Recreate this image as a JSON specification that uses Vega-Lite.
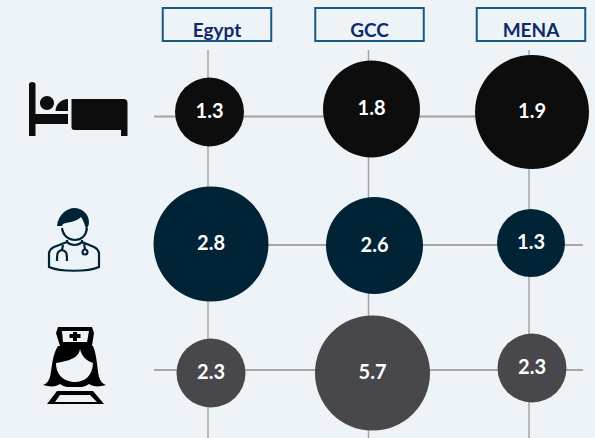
{"$schema":"https://vega.github.io/schema/vega-lite/v6.json","width":429,"height":388,"autosize":"none","padding":{"left":154,"top":50,"right":12,"bottom":0},"background":"#eef3f8","config":{"view":{"stroke":null}},
"datasets":{"cells":[
{"row":"Beds","column":"Egypt","value":1.3},{"row":"Beds","column":"GCC","value":1.8},{"row":"Beds","column":"MENA","value":1.9},
{"row":"Physicians","column":"Egypt","value":2.8},{"row":"Physicians","column":"GCC","value":2.6},{"row":"Physicians","column":"MENA","value":1.3},
{"row":"Nurses","column":"Egypt","value":2.3},{"row":"Nurses","column":"GCC","value":5.7},{"row":"Nurses","column":"MENA","value":2.3}],
"headers":[{"row":"Header","column":"Egypt"},{"row":"Header","column":"GCC"},{"row":"Header","column":"MENA"}],
"beds":[{"row":"Beds","column":"Icon"}],"physicians":[{"row":"Physicians","column":"Icon"}],"nurses":[{"row":"Nurses","column":"Icon"}]},
"encoding":{
"x":{"field":"column","type":"nominal","axis":null,"scale":{"type":"point","padding":0,"domain":["Icon","Egypt","GCC","MENA"],"range":[-106.5,375]}},
"y":{"field":"row","type":"nominal","axis":null,"scale":{"type":"point","padding":0,"domain":["Header","Beds","Physicians","Nurses"],"range":[-60.25,320]}}},
"layer":[
{"data":{"name":"headers"},"mark":{"type":"rule","stroke":"#aaa5a5","strokeWidth":1.5},"encoding":{"y":null}},
{"data":{"name":"cells"},"transform":[{"filter":"datum.row!='Physicians'"}],"mark":{"type":"rule","stroke":"#aaa5a5","strokeWidth":1.5},"encoding":{"x":null}},
{"data":{"name":"cells"},"transform":[{"filter":"datum.row=='Physicians'"}],"mark":{"type":"rule","stroke":"#aaa5a5","strokeWidth":1.5},"encoding":{"x":null,"yOffset":{"value":1.75}}},
{"data":{"name":"headers"},"transform":[{"filter":"datum.column=='Egypt'"}],"encoding":{"xOffset":{"value":9}},"layer":[
{"mark":{"type":"rect","width":108.5,"height":33,"fill":null,"stroke":"#1a5a82","strokeWidth":2},"encoding":{"yOffset":{"value":34.75}}},
{"mark":{"type":"text","font":"Lato","fontWeight":"bold","fontSize":19,"fill":"#0f2a6b"},"encoding":{"text":{"field":"column"},"yOffset":{"value":41}}}]},
{"data":{"name":"headers"},"transform":[{"filter":"datum.column=='GCC'"}],"encoding":{"xOffset":{"value":1}},"layer":[
{"mark":{"type":"rect","width":108.5,"height":33,"fill":null,"stroke":"#1a5a82","strokeWidth":2},"encoding":{"yOffset":{"value":34.75}}},
{"mark":{"type":"text","font":"Lato","fontWeight":"bold","fontSize":19,"fill":"#0f2a6b"},"encoding":{"text":{"field":"column"},"yOffset":{"value":41}}}]},
{"data":{"name":"headers"},"transform":[{"filter":"datum.column=='MENA'"}],"encoding":{"xOffset":{"value":2}},"layer":[
{"mark":{"type":"rect","width":108.5,"height":33,"fill":null,"stroke":"#1a5a82","strokeWidth":2},"encoding":{"yOffset":{"value":34.75}}},
{"mark":{"type":"text","font":"Lato","fontWeight":"bold","fontSize":19,"fill":"#0f2a6b"},"encoding":{"text":{"field":"column"},"yOffset":{"value":41}}}]},
{"data":{"name":"cells"},"transform":[{"filter":"datum.row=='Beds'"}],"layer":[
{"mark":{"type":"point","shape":"circle","filled":true,"fill":"#0d0d0d","opacity":1,"stroke":null},"encoding":{"size":{"field":"value","type":"quantitative","legend":null,"scale":{"domain":[1.3,1.8,1.9],"range":[4761,9409,12996]}}}},
{"mark":{"type":"text","font":"Lato","fontWeight":"bold","fontSize":20,"fill":"white"},"encoding":{"text":{"field":"value","format":".1f"}}}],
"encoding":{
"xOffset":{"field":"value","type":"quantitative","scale":{"domain":[1.3,1.8,1.9],"range":[1.5,3,3]}},
"yOffset":{"field":"value","type":"quantitative","scale":{"domain":[1.3,1.8,1.9],"range":[-4.5,-7.5,-4.5]}}}},
{"data":{"name":"cells"},"transform":[{"filter":"datum.row=='Physicians'"}],"layer":[
{"mark":{"type":"point","shape":"circle","filled":true,"fill":"#002335","opacity":1,"stroke":null},"encoding":{"size":{"field":"value","type":"quantitative","legend":null,"scale":{"domain":[1.3,2.6,2.8],"range":[4624,9409,13225]}}}},
{"mark":{"type":"text","font":"Lato","fontWeight":"bold","fontSize":20,"fill":"white"},"encoding":{"text":{"field":"value","format":".1f"}}}],
"encoding":{
"xOffset":{"field":"value","type":"quantitative","scale":{"domain":[1.3,2.6,2.8],"range":[2,6,3]}},
"yOffset":{"field":"value","type":"quantitative","scale":{"domain":[1.3,2.6,2.8],"range":[-0.25,2.25,0.75]}}}},
{"data":{"name":"cells"},"transform":[{"filter":"datum.row=='Nurses' && datum.column!='MENA'"}],"layer":[
{"mark":{"type":"point","shape":"circle","filled":true,"fill":"#48474b","opacity":1,"stroke":null},"encoding":{"size":{"field":"value","type":"quantitative","legend":null,"scale":{"domain":[2.3,5.7],"range":[4761,13225]}}}},
{"mark":{"type":"text","font":"Lato","fontWeight":"bold","fontSize":20,"fill":"white"},"encoding":{"text":{"field":"value","format":".1f"}}}],
"encoding":{
"xOffset":{"field":"value","type":"quantitative","scale":{"domain":[2.3,5.7],"range":[3,4]}},
"yOffset":{"value":3}}},
{"data":{"name":"cells"},"transform":[{"filter":"datum.row=='Nurses' && datum.column=='MENA'"}],"layer":[
{"mark":{"type":"point","shape":"circle","filled":true,"fill":"#48474b","opacity":1,"stroke":null},"encoding":{"size":{"field":"value","type":"quantitative","legend":null,"scale":{"domain":[2.3,5.7],"range":[4761,13225]}}}},
{"mark":{"type":"text","font":"Lato","fontWeight":"bold","fontSize":20,"fill":"white"},"encoding":{"text":{"field":"value","format":".1f"}}}],
"encoding":{"xOffset":{"value":3},"yOffset":{"value":-2}}},
{"data":{"name":"beds"},"mark":{"type":"point","filled":true,"fill":"#0d0d0d","stroke":null,"opacity":1,"size":4,"shape":"M-48.5 -32 Q-48.5 -34.5 -45.5 -34.5 Q-42 -34.5 -42 -32 V-2.5 H-9.5 V7.5 H-42 V19.5 H-48.5 Z M-37.5 -13.5 A7 7 0 1 0 -23.5 -13.5 A7 7 0 1 0 -37.5 -13.5 Z M-9.5 -17.5 L-9.5 -5.5 L-22 -5.5 C-22 -12 -16 -17.5 -9.5 -17.5 Z M-6 -17.5 H46 Q50 -17.5 50 -13.5 V19.5 H43.5 V13.5 H-3 Q-6 13.5 -6 10.5 Z"},"encoding":{"xOffset":{"value":30}}},
{"data":{"name":"physicians"},"mark":{"type":"point","filled":true,"fill":"#002335","stroke":null,"opacity":1,"size":4,"shape":"M-20.5 -19 C-19.5 -31 -9.5 -37 -3.5 -37 C5.5 -37 11.5 -30 11.5 -23 C11.5 -19 9.5 -17 8.5 -15 C7.5 -21 5.5 -25 3.5 -28 C-1.5 -23 -9.5 -23 -14.5 -21 L-15.5 -19 Z"},"encoding":{"xOffset":{"value":30},"yOffset":{"value":1.75}}},
{"data":{"name":"physicians"},"mark":{"type":"point","filled":false,"stroke":"#002335","strokeWidth":2.2,"fill":null,"opacity":1,"size":4,"shape":"M-15.5 -17 C-14.5 -9 -8.5 -5 -2.5 -5 C3.5 -5 8.5 -9 9.5 -17 M-10.5 -5 L-10.5 -3 C-6.5 1 0.5 1 4.5 -3 L4.5 -5 M-10.5 -3 L-23.5 2 C-27.5 4 -28.5 6 -28.5 9 V22 C-17.5 27 10.5 27 21.5 22 V9 C21.5 6 20.5 4 16.5 2 L4.5 -3 M-14.5 0 L-15.5 5 C-20.5 6 -20.5 9 -20.5 16 M-15.5 5 C-10.5 6 -10.5 9 -10.5 16 M5 7 A2.5 2.5 0 1 0 10 7 A2.5 2.5 0 1 0 5 7 Z M7.5 4 L6.5 -1"},"encoding":{"xOffset":{"value":30},"yOffset":{"value":1.75}}},
{"data":{"name":"nurses"},"mark":{"type":"point","filled":true,"fill":"#000000","stroke":null,"opacity":1,"size":4,"shape":"M-19.5 -43 H14.5 L16.5 -37 L14.5 -24 H-17.5 L-21.5 -37 Z M-19.5 -24 C-25.5 -15 -25.5 -2 -27.5 7 C-28.5 11 -31.5 14 -34.5 15 C-27.5 17 -21.5 17 -17.5 14 C-12.5 18 -7.5 17 -3.5 17 C1.5 17 6.5 18 11.5 14 C15.5 17 22.5 17 28.5 15 C25.5 14 22.5 11 21.5 7 C19.5 -2 19.5 -15 15.5 -24 Z M-30.5 34 L-20.5 21 H15.5 L26.5 34 Z"},"encoding":{"xOffset":{"value":30}}},
{"data":{"name":"nurses"},"mark":{"type":"point","filled":true,"fill":"#eef3f8","stroke":null,"opacity":1,"size":4,"shape":"M-15.5 -39 H11.5 L9.5 -28 H-14.5 Z M2.5 -21 C1.5 -15 -2 -10 -21.5 -7 C-21.5 6 -12 12 -2.5 12 C7 12 15 6 15.5 -7 C9 -9 4 -14 2.5 -21 Z M-22.5 32 L-17.5 25 H12.5 L19.5 32 Z"},"encoding":{"xOffset":{"value":30}}},
{"data":{"name":"nurses"},"mark":{"type":"point","filled":true,"fill":"#000000","stroke":null,"opacity":1,"size":4,"shape":"M-4.5 -38 H-0.5 V-36 H3 V-32 H-0.5 V-29 H-4.5 V-32 H-8 V-36 H-4.5 Z"},"encoding":{"xOffset":{"value":30}}}
],"resolve":{"scale":{"size":"independent","xOffset":"independent","yOffset":"independent"}}}
